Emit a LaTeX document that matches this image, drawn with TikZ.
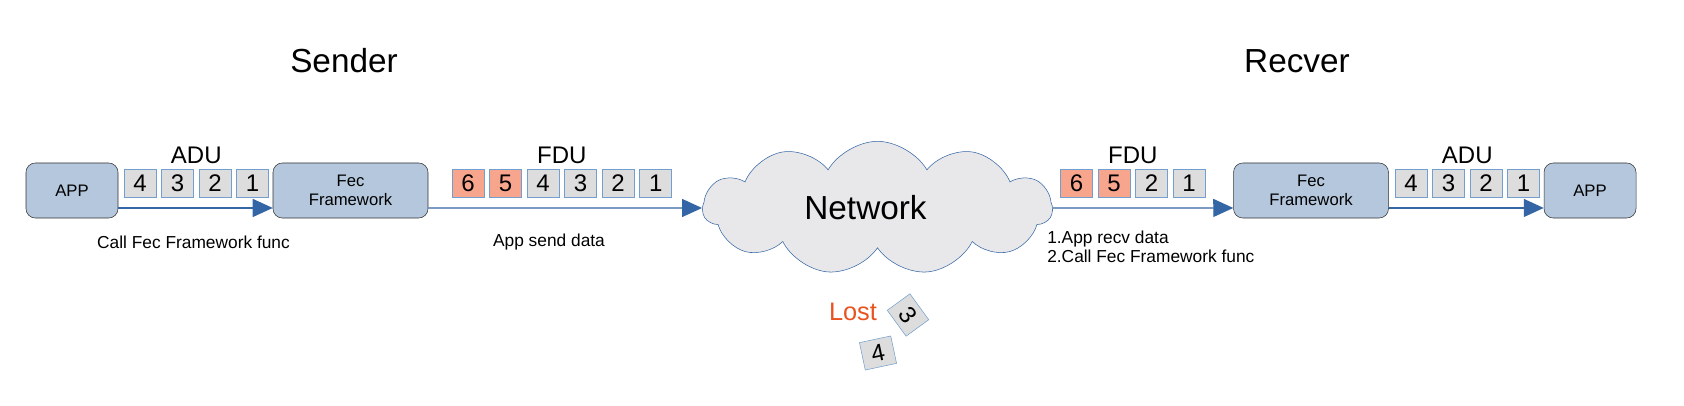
\documentclass[tikz,border=0pt]{standalone}
\usepackage{fontspec}
\setmainfont{Liberation Sans}
\usetikzlibrary{shapes.symbols, arrows.meta, chains, calc}
\definecolor{boxblue}{HTML}{B4C7DC}
\definecolor{pktgray}{HTML}{DDDDDD}
\definecolor{pktline}{HTML}{729FCF}
\definecolor{fecred}{HTML}{F8A58E}
\definecolor{flowblue}{HTML}{3465A4}
\definecolor{cloudgray}{HTML}{E8E8EA}
\definecolor{lostred}{HTML}{E9531F}
\tikzset{
    app/.style    = {draw=black!80, fill=boxblue, rounded corners=7pt, minimum width=69pt, minimum height=41.25pt, align=center, font=\fontsize{12.5}{14.25}\selectfont},
    fec/.style    = {app, minimum width=116.25pt},
    pkt/.style    = {draw=pktline, fill=pktgray, minimum width=24pt, minimum height=21pt, inner sep=0pt, font=\fontsize{18}{20}\selectfont},
    fecpkt/.style = {pkt, fill=fecred},
    unit/.style   = {anchor=south, font=\fontsize{18}{21}\selectfont},
    side/.style   = {font=\fontsize{25}{30}\selectfont},
    note/.style   = {inner sep=0pt, font=\fontsize{13}{14.25}\selectfont},
    cloudnet/.style = {cloud, cloud puffs=11, cloud puff arc=120, cloud ignores aspect, draw=flowblue, fill=cloudgray, minimum width=262pt, minimum height=100pt, font=\fontsize{25}{30}\selectfont},
    flow/.style   = {draw=flowblue, line width=1pt, -{Triangle[length=15pt,width=13.5pt]}},
}
\begin{document}
\begin{tikzpicture}[x=0.75pt, y=-0.75pt, node distance=3.75pt, start chain=1 going right, start chain=2 going right, start chain=3 going right, start chain=4 going right]
  \useasboundingbox (0,0) rectangle (1684,406);
  \node [side] (sender) at (344,61) {Sender};
  \node [side] (recver) at (1297,61) {Recver};
  % sender side
  \node [app] (app1) at (72,190.5) {APP};
  \node [fec] (fec1) at (350.5,190.5) {Fec\\Framework};
  \node [name=sa4, on chain=1, pkt] at (140,183) {4};
  \node [name=sa3, on chain=1, pkt] {3};
  \node [name=sa2, on chain=1, pkt] {2};
  \node [name=sa1, on chain=1, pkt] {1};
  \node [unit] (adu1) at ($(sa4.north)!0.5!(sa1.north)$) {ADU};
  \node [name=sf6, on chain=2, fecpkt] at (468,183) {6};
  \node [name=sf5, on chain=2, fecpkt] {5};
  \node [name=sf4, on chain=2, pkt] {4};
  \node [name=sf3, on chain=2, pkt] {3};
  \node [name=sf2, on chain=2, pkt] {2};
  \node [name=sf1, on chain=2, pkt] {1};
  \node [unit] (fdu1) at ($(sf6.north)!0.5!(sf1.north)$) {FDU};
  \node [note] (calltxt) at (193.5,242) {Call Fec Framework func};
  \node [note] (sendtxt) at (549,242) {App send data};
  % network
  \node [cloudnet] (net) at (877.5,208) {\hspace*{-18pt}Network};
  \node [font=\fontsize{19}{22}\selectfont, text=lostred] (losttxt) at (853,312) {Lost};
  \node [pkt, rotate=-54] (lost3) at (908,315) {3};
  \node [pkt, rotate=12] (lost4) at (878,353) {4};
  % receiver side
  \node [fec] (fec2) at (1311,190.5) {Fec\\Framework};
  \node [app] (app2) at (1590,190.5) {APP};
  \node [name=rf6, on chain=3, fecpkt] at (1076.5,183) {6};
  \node [name=rf5, on chain=3, fecpkt] {5};
  \node [name=rf2, on chain=3, pkt] {2};
  \node [name=rf1, on chain=3, pkt] {1};
  \node [unit] (fdu2) at ($(rf6.north)!0.5!(rf1.north)$) {FDU};
  \node [name=ra4, on chain=4, pkt] at (1411,183) {4};
  \node [name=ra3, on chain=4, pkt] {3};
  \node [name=ra2, on chain=4, pkt] {2};
  \node [name=ra1, on chain=4, pkt] {1};
  \node [unit] (adu2) at ($(ra4.north)!0.5!(ra1.north)$) {ADU};
  \node [note, align=left, anchor=west] (recvtxt) at (1047,246.5) {1.App recv data\\2.Call Fec Framework func};
  % connectors
  \draw [flow] ([yshift=-13.1pt]app1.east) -- ([yshift=-13.1pt]fec1.west);
  \draw [flow] ([yshift=-13.1pt]fec1.east) -- (net.west);
  \draw [flow] (net.east) -- ([yshift=-13.1pt]fec2.west);
  \draw [flow] ([yshift=-13.1pt]fec2.east) -- ([yshift=-13.1pt]app2.west);
\end{tikzpicture}
\end{document}
